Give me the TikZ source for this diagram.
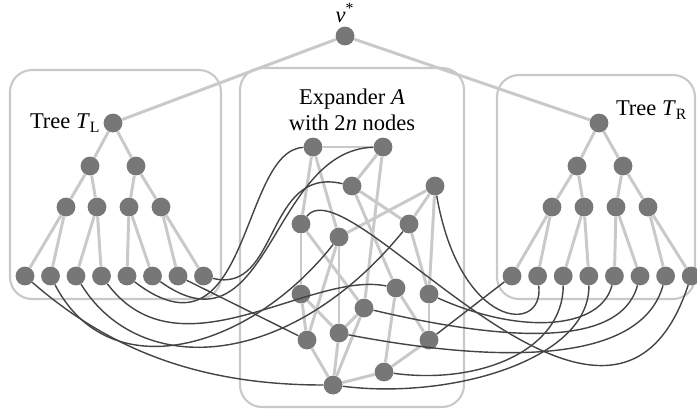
\documentclass[tikz,border=0pt]{standalone}
\usepackage{fontspec}
\setmainfont{Liberation Serif}
\usetikzlibrary{positioning}
\definecolor{dotgray}{HTML}{777777}
\definecolor{edgegray}{HTML}{C9C9C9}
\definecolor{wiregray}{HTML}{444444}
\begin{document}
\begin{tikzpicture}[
        x=0.025cm, y=-0.025cm,
        dot/.style={circle, fill=dotgray, draw=none, minimum size=0.47cm, inner sep=0pt},
        edge/.style={draw=edgegray, line width=2.1pt},
        wire/.style={draw=wiregray, line width=1pt},
        frame/.style={draw=edgegray, line width=1.5pt, rounded corners=0.55cm},
        lbl/.style={font=\fontsize{16}{18.5}\selectfont, inner sep=1pt},
    ]
    \useasboundingbox (0,0) rectangle (697,416);
    \draw[frame] (10,70) rectangle (221,299);
    \draw[frame] (240,68) rectangle (464,407);
    \draw[frame] (497,75) rectangle (695,299);

    \node[dot](top) at (345,36){};
    \node[lbl, above=1.5pt of top]{\textit{v}\textsuperscript{*}};

    \node[dot](TL) at (113,123){};
    \node[dot](TLa) at (90,166){};
    \node[dot](TLb) at (136,166){};
    \foreach \x [count=\i] in {66,97,129,161}
        \node[dot](TL\i) at (\x,207){};
    \foreach \i in {1,...,8}
        \node[dot](l\i) at ({25+25.5*(\i-1)},276){};
    \node[lbl, left=1pt of TL]{Tree \textit{T}\textsubscript{L}};

    \node[dot](TR) at (599,123){};
    \node[dot](TRa) at (577,166){};
    \node[dot](TRb) at (623,166){};
    \foreach \x [count=\i] in {552,584,616,648}
        \node[dot](TR\i) at (\x,207){};
    \foreach \i in {1,...,8}
        \node[dot](r\i) at ({512+25.6*(\i-1)},276){};
    \node[lbl, right=4pt of TR, yshift=9pt]{Tree \textit{T}\textsubscript{R}};

    \foreach \x/\y [count=\i] in {313/147, 383/147, 352/186, 435/186, 301/224, 339/237,
            409/224, 301/294, 396/288, 429/294, 364/308, 307/340, 339/333, 429/340,
            384/372, 333/385}
        \node[dot](e\i) at (\x,\y){};
    \node[lbl, align=center](xlbl) at (352,110){Expander \textit{A}\\with 2\textit{n} nodes};

    \foreach \a/\b in {top/TL, top/TR, TL/TLa, TL/TLb, TLa/TL1, TLa/TL2, TLb/TL3, TLb/TL4,
            TL1/l1, TL1/l2, TL2/l3, TL2/l4, TL3/l5, TL3/l6, TL4/l7, TL4/l8,
            TR/TRa, TR/TRb, TRa/TR1, TRa/TR2, TRb/TR3, TRb/TR4,
            TR1/r1, TR1/r2, TR2/r3, TR2/r4, TR3/r5, TR3/r6, TR4/r7, TR4/r8}
        \draw[edge] (\a) -- (\b);
    \foreach \a/\b in {1/2, 1/5, 1/6, 2/3, 2/11, 3/7, 3/9, 4/6, 4/7, 4/10, 5/8, 5/11, 6/12,
            6/13, 7/10, 8/12, 8/13, 9/14, 9/15, 10/14, 11/13, 11/16, 12/16, 13/16, 14/15, 15/16}
        \draw[edge] (e\a) -- (e\b);

    \draw[wire] (l1) .. controls +(85,74) and +(-133,0) .. (e16);
    \draw[wire] (l2) .. controls +(59,114) and +(-89,113) .. (e6);
    \draw[wire] (l3) .. controls +(64,104) and +(-119,146) .. (e7);
    \draw[wire] (l4) .. controls +(78,104) and +(-86,-18) .. (e9);
    \draw[wire] (l5) .. controls +(123,94) and +(-73,3) .. (e1);
    \draw[wire] (l6) .. controls +(117,84) and +(-113,3) .. (e2);
    \draw[wire] (l7) -- (e12);
    \draw[wire] (l8) .. controls +(76,19) and +(-87,-21) .. (e3);
    \draw[wire] (r1) -- (e14);
    \draw[wire] (e4) .. controls +(25,144) and +(7,59) .. (r2);
    \draw[wire] (r3) .. controls +(0,74) and +(96,13) .. (e15);
    \draw[wire] (e16) .. controls +(117,15) and +(1,84) .. (r4);
    \draw[wire] (e10) .. controls +(91,41) and +(-14,54) .. (r5);
    \draw[wire] (e11) .. controls +(136,32) and +(-20,74) .. (r6);
    \draw[wire] (e13) .. controls +(141,27) and +(-26,94) .. (r7);
    \draw[wire] (e5) .. controls +(49,-64) and +(-81,244) .. (r8);
\end{tikzpicture}
\end{document}
